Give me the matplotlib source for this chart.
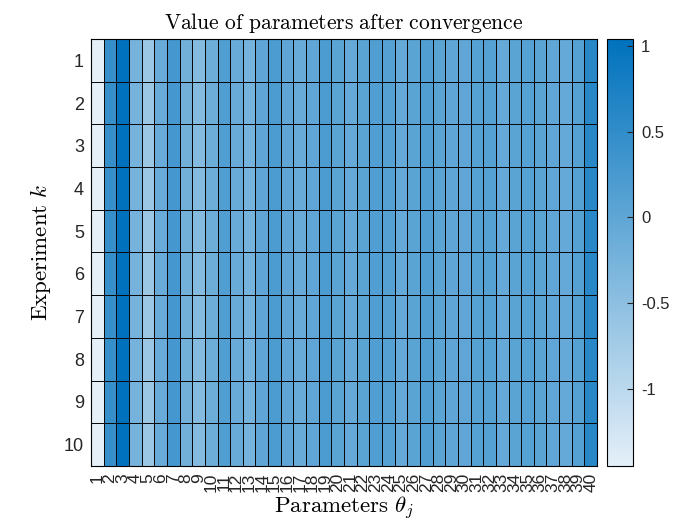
import numpy as np
import matplotlib
matplotlib.use("Agg")
import matplotlib.pyplot as plt
from matplotlib.colors import LinearSegmentedColormap

# values (every experiment converged to the same values)
experiments = list(range(1, 11))
params = list(range(1, 41))
theta = [-1.45, 0.45, 1.04, -0.25, -0.65, -0.10, 0.30, -0.20, -0.40, -0.15,
         0.15, -0.10, -0.25, 0.00, 0.20, 0.00, -0.10, 0.00, 0.20, 0.05,
         -0.05, 0.05, 0.15, 0.10, -0.05, 0.05, 0.15, 0.05, 0.00, 0.00,
         0.10, 0.10, -0.05, 0.05, 0.10, 0.05, 0.00, -0.05, 0.10, 0.60]

values = np.array([theta for k in experiments])

plt.rcParams["mathtext.fontset"] = "cm"
plt.rcParams["font.family"] = "Liberation Sans"

cmap = LinearSegmentedColormap.from_list("blues", ["#e4eff8", "#0072bd"])

fig = plt.figure(figsize=(7, 5.25), dpi=100)
ax = fig.add_axes([0.13, 0.1124, 0.723, 0.8133])
cax = fig.add_axes([0.867, 0.1124, 0.037, 0.8133])

x_edges = np.arange(len(params) + 1) + 0.5
y_edges = np.arange(len(experiments) + 1) + 0.5
mesh = ax.pcolormesh(x_edges, y_edges, values, cmap=cmap,
                     edgecolors="#0a0a0a", linewidth=0.7)
ax.set_xlim(0.5, len(params) + 0.5)
ax.set_ylim(len(experiments) + 0.5, 0.5)

# labels overlap in the original too (40 of them in ~500 px)
ax.set_xticks(params)
ax.set_xticklabels([str(p) for p in params], rotation=90, fontsize=12.5)
ax.set_yticks(experiments)
ax.set_yticklabels([str(k) for k in experiments], fontsize=13)
ax.tick_params(length=0, pad=5, colors="#262626")
for s in ax.spines.values():
    s.set_linewidth(0.8)

ax.set_title(r"$\mathrm{Value\ of\ parameters\ after\ convergence}$", fontsize=15.5, pad=7)
ax.set_xlabel(r"$\mathrm{Parameters}\ \theta_j$", fontsize=16.5, labelpad=2)
ax.set_ylabel(r"$\mathrm{Experiment}\ k$", fontsize=16.5, labelpad=8)

cb = fig.colorbar(mesh, cax=cax)
cb.set_ticks([-1, -0.5, 0, 0.5, 1])
cb.set_ticklabels(["-1", "-0.5", "0", "0.5", "1"])
cax.tick_params(direction="in", length=4, labelsize=12, colors="#262626", pad=6)
cb.outline.set_linewidth(0.8)

fig.savefig("out.png", dpi=100)
